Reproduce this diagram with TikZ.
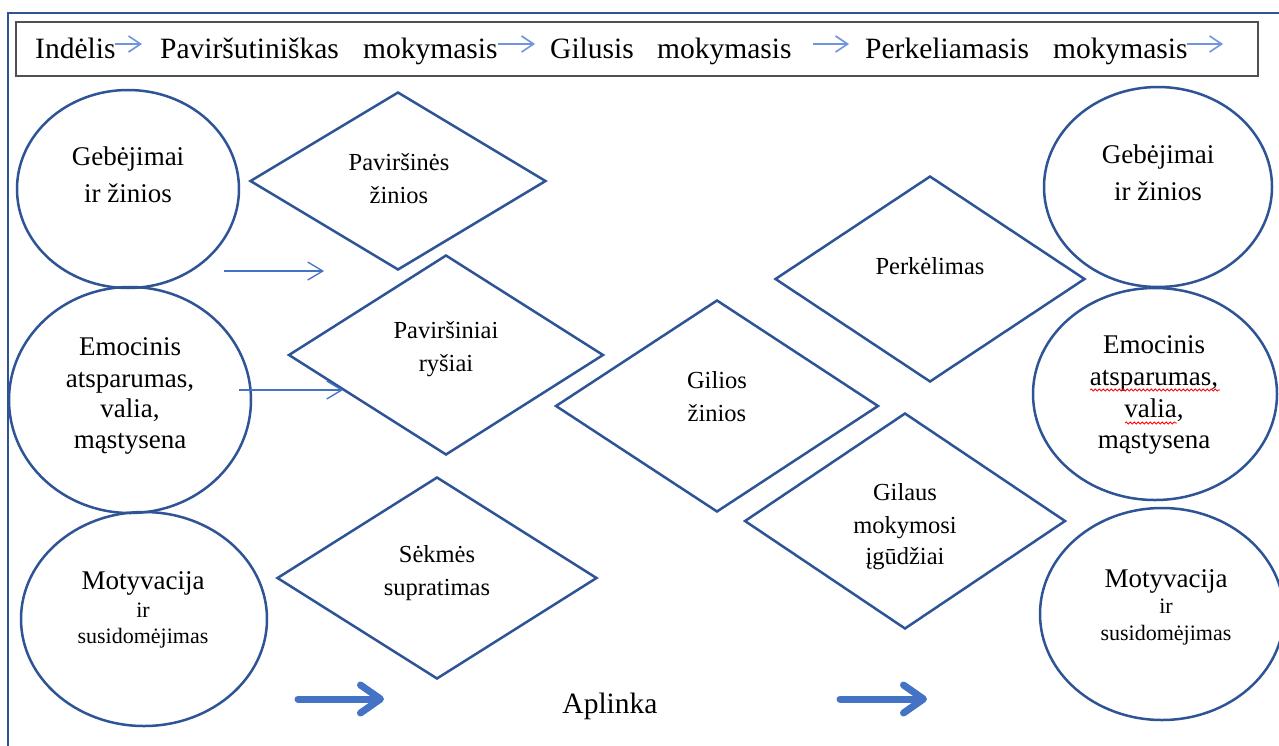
\documentclass[tikz,border=0pt]{standalone}
\usepackage{fontspec}
\setmainfont{Liberation Serif}
\usetikzlibrary{shapes.geometric,arrows.meta,decorations.pathmorphing}
\definecolor{shapeblue}{HTML}{2F5496}
\definecolor{arrblue}{HTML}{4472C4}
\definecolor{lightarr}{HTML}{6F96DC}
\definecolor{boxgray}{HTML}{505050}
\begin{document}
\begin{tikzpicture}[x=1pt,y=-1pt,
 oval/.style={draw=shapeblue,line width=2.5pt,ellipse,inner sep=0pt},
 rhomb/.style={draw=shapeblue,line width=2.5pt,diamond,inner sep=0pt},
 hdr/.style={anchor=base west,inner sep=0pt,font=\fontsize{29.5}{35}\selectfont},
 big/.style={anchor=base,inner sep=0pt,font=\fontsize{27}{32}\selectfont},
 small/.style={anchor=base,inner sep=0pt,font=\fontsize{22}{26}\selectfont},
 dtxt/.style={anchor=base,inner sep=0pt,font=\fontsize{24.5}{29}\selectfont},
 harrow/.style={draw=lightarr,line width=1.6pt,-{Straight Barb[length=12pt,width=16pt]}},
 thinarrow/.style={draw=arrblue,line width=1.3pt,-{Straight Barb[length=15pt,width=18pt]}},
 thickarrow/.style={draw=arrblue,line width=7pt,line cap=round,-{Straight Barb[length=20pt,width=28pt,round]}},
 wavy/.style={draw=red,line width=0.8pt,decorate,decoration={snake,amplitude=1.1pt,segment length=4pt}}
 ]
\clip (0,0) rectangle (1279,745);
\fill[white] (0,0) rectangle (1279,745);
% outer frame
\draw[shapeblue,line width=2pt] (8,13) rectangle (1300,770);
% header box
\draw[boxgray,line width=1.5pt] (16,22) rectangle (1258,76);
\node[hdr] (h1) at (35,58) {Indėlis};
\node[hdr] (h2) at (160,58) {Paviršutiniškas};
\node[hdr] (h3) at (363,58) {mokymasis};
\node[hdr] (h4) at (550,58) {Gilusis};
\node[hdr] (h5) at (657,58) {mokymasis};
\node[hdr] (h6) at (865,58) {Perkeliamasis};
\node[hdr] (h7) at (1053,58) {mokymasis};
\coordinate (ha1s) at (115,44); \coordinate (ha1e) at (142,44);
\coordinate (ha2s) at (498,44); \coordinate (ha2e) at (535,44);
\coordinate (ha3s) at (813,44); \coordinate (ha3e) at (849,44);
\coordinate (ha4s) at (1187,44); \coordinate (ha4e) at (1223,44);
\draw[harrow] (ha1s) -- (ha1e);
\draw[harrow] (ha2s) -- (ha2e);
\draw[harrow] (ha3s) -- (ha3e);
\draw[harrow] (ha4s) -- (ha4e);
% left ovals
\node[oval,minimum width=222pt,minimum height=198pt] (c1) at (128,189) {};
\node[oval,minimum width=242pt,minimum height=226pt] (c2) at (130,400) {};
\node[oval,minimum width=246pt,minimum height=214pt] (c3) at (144,619) {};
% right ovals
\node[oval,minimum width=228pt,minimum height=200pt] (r1) at (1158,187) {};
\node[oval,minimum width=244pt,minimum height=212pt] (r2) at (1155,394) {};
\node[oval,minimum width=244pt,minimum height=212pt] (r3) at (1162,614) {};
% diamonds
\node[rhomb,minimum width=296pt,minimum height=178pt] (d1) at (398,181) {};
\node[rhomb,minimum width=315pt,minimum height=200pt] (d2) at (446,355) {};
\node[rhomb,minimum width=323pt,minimum height=212pt] (d3) at (717,406) {};
\node[rhomb,minimum width=310pt,minimum height=206pt] (d4) at (930,279) {};
\node[rhomb,minimum width=321pt,minimum height=216pt] (d5) at (905,521) {};
\node[rhomb,minimum width=320pt,minimum height=202pt] (d6) at (437,578) {};
% oval texts
\node[big] (c1a) at (128,165) {Gebėjimai};
\node[big] (c1b) at (128,202) {ir žinios};
\node[big] (c2a) at (130,355) {Emocinis};
\node[big] (c2b) at (130,387) {atsparumas,};
\node[big] (c2c) at (130,417) {valia,};
\node[big] (c2d) at (130,448) {mąstysena};
\node[big] (c3a) at (143,589) {Motyvacija};
\node[small] (c3b) at (143,617) {ir};
\node[small] (c3c) at (143,643) {susidomėjimas};
\node[big] (r1a) at (1158,163) {Gebėjimai};
\node[big] (r1b) at (1158,200) {ir žinios};
\node[big] (r2a) at (1154,353) {Emocinis};
\node[big] (r2b) at (1154,385) {atsparumas,};
\node[big] (r2c) at (1154,417) {valia,};
\node[big] (r2d) at (1154,448) {mąstysena};
\node[big] (r3a) at (1166,587) {Motyvacija};
\node[small] (r3b) at (1166,613) {ir};
\node[small] (r3c) at (1166,640) {susidomėjimas};
% spell-check underlines
\draw[wavy] (1090,390) -- (1220,390);
\draw[wavy] (1125,423) -- (1177,423);
% diamond texts
\node[dtxt] (d1a) at (399,170) {Paviršinės};
\node[dtxt] (d1b) at (399,203) {žinios};
\node[dtxt] (d2a) at (446,338) {Paviršiniai};
\node[dtxt] (d2b) at (446,371) {ryšiai};
\node[dtxt] (d3a) at (717,388) {Gilios};
\node[dtxt] (d3b) at (717,421) {žinios};
\node[dtxt] (d4a) at (930,274) {Perkėlimas};
\node[dtxt] (d5a) at (905,500) {Gilaus};
\node[dtxt] (d5b) at (905,533) {mokymosi};
\node[dtxt] (d5c) at (905,564) {įgūdžiai};
\node[dtxt] (d6a) at (437,562) {Sėkmės};
\node[dtxt] (d6b) at (437,595) {supratimas};
% thin arrows
\coordinate (m1s) at (224,271); \coordinate (m1e) at (324,271);
\coordinate (m2s) at (239,390); \coordinate (m2e) at (343,390);
\draw[thinarrow] (m1s) -- (m1e);
\draw[thinarrow] (m2s) -- (m2e);
% bottom
\node[hdr,anchor=base] (apl) at (610,713) {Aplinka};
\coordinate (b1s) at (298,699); \coordinate (b1e) at (384,699);
\coordinate (b2s) at (840,699); \coordinate (b2e) at (927,699);
\draw[thickarrow] (b1s) -- (b1e);
\draw[thickarrow] (b2s) -- (b2e);
\end{tikzpicture}
\end{document}
